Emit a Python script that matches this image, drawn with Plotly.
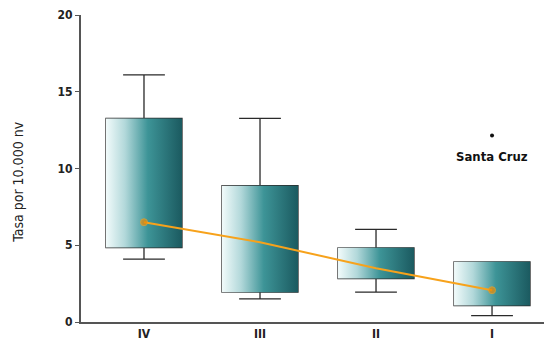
import plotly.graph_objects as go

categories = ["IV", "III", "II", "I"]
positions = [0, 1, 2, 3]
q1 = [4.85, 1.94, 2.83, 1.07]
median = [5.5, 2.88, 3.24, 2.66]
q3 = [13.26, 8.88, 4.83, 3.92]
lower = [4.1, 1.51, 1.94, 0.42]
upper = [16.1, 13.26, 6.03, 3.92]
means = [6.5, 5.2, 3.5, 2.07]
outlier_cat = [3]
outlier_val = [12.15]
outlier_label = ["Santa Cruz"]
y_title = "Tasa por 10.000 nv"

box_w = 0.655
grad = [[0, "#f2fbfb"], [0.25, "#b2d8da"], [0.55, "#3d9497"], [1, "#1b5a60"]]
font = "DejaVu Sans Condensed, Liberation Sans Narrow, sans-serif"

fig = go.Figure()
for p, a, b in zip(positions, q1, q3):
    h = box_w / 2
    fig.add_trace(go.Scatter(
        x=[p - h, p + h, p + h, p - h, p - h], y=[a, a, b, b, a],
        fill="toself", mode="lines", line=dict(width=0),
        fillgradient=dict(type="horizontal", colorscale=grad),
        hoverinfo="skip", showlegend=False))

fig.add_trace(go.Box(
    x=positions, q1=q1, median=median, q3=q3, lowerfence=lower, upperfence=upper,
    width=box_w, whiskerwidth=0.55, fillcolor="rgba(0,0,0,0)",
    line=dict(color="#2a2a2a", width=1.3), boxpoints=False, showlegend=False))

fig.add_trace(go.Scatter(
    x=positions, y=means, mode="lines+markers",
    line=dict(color="#f7a21b", width=2),
    marker=dict(color="#f08a00", size=[7, 0, 0, 7]), showlegend=False))

fig.add_trace(go.Scatter(
    x=outlier_cat, y=outlier_val, mode="markers",
    marker=dict(color="#111", size=4), showlegend=False))
fig.add_annotation(x=outlier_cat[0], y=outlier_val[0], text=outlier_label[0], showarrow=False,
                   yshift=-21, font=dict(family=font, size=13, color="#111", weight="bold"))
fig.add_annotation(xref="paper", yref="paper", x=-0.136, y=0.454, text=y_title, textangle=-90,
                   showarrow=False, xanchor="center", yanchor="middle",
                   font=dict(family=font, size=14, color="#222"))

fig.update_layout(
    width=544, height=344, margin=dict(l=81, r=0, t=15, b=21.5),
    paper_bgcolor="white", plot_bgcolor="white",
    font=dict(family=font, color="#222"),
    xaxis=dict(range=[-0.543, 3.448], tickmode="array", tickvals=positions, ticktext=categories,
               showgrid=False, zeroline=False, showline=True, linecolor="#555", linewidth=2,
               ticks="", tickfont=dict(size=12, family=font, color="#222", weight="bold")),
    yaxis=dict(range=[0, 20], tickvals=[0, 5, 10, 15, 20], showgrid=False, zeroline=False,
               showline=True, linecolor="#555", linewidth=2, ticks="outside", ticklen=4,
               tickcolor="#555", tickfont=dict(size=12, family=font, color="#222", weight="bold")),
)
fig.write_html("out.html")
